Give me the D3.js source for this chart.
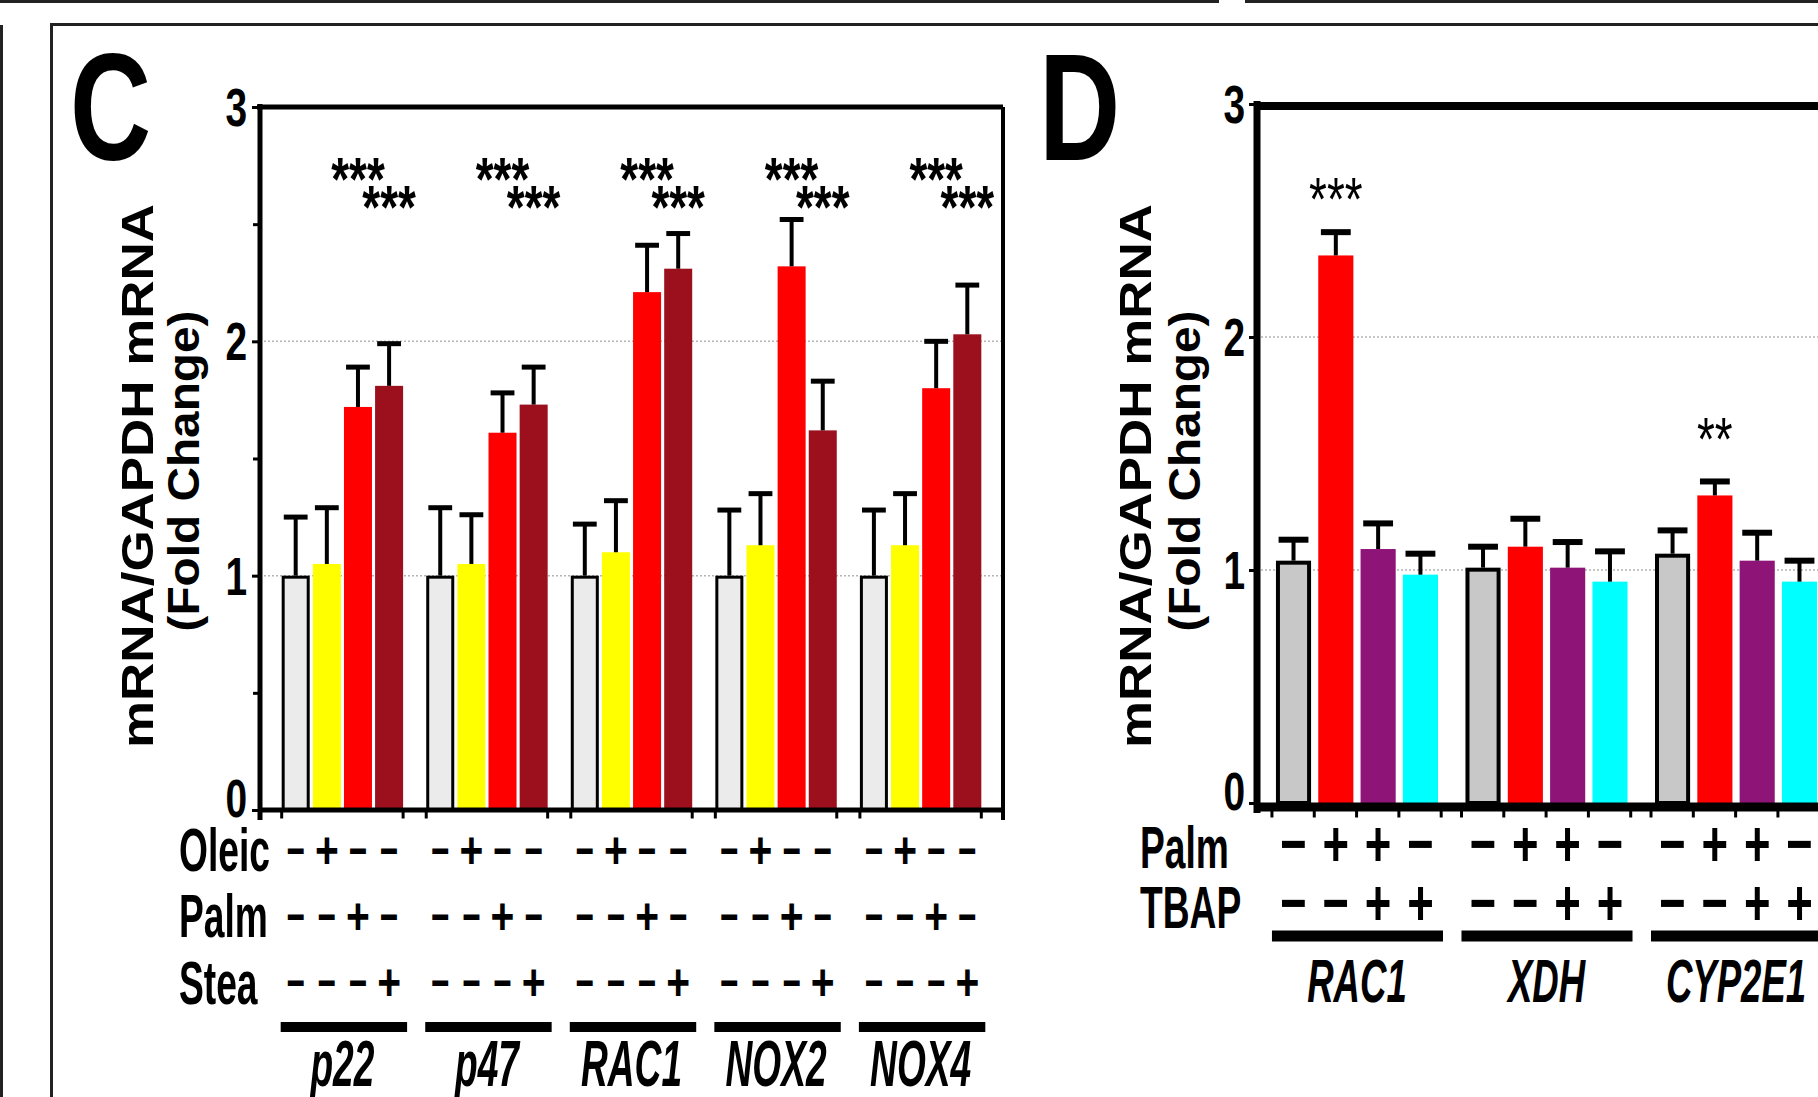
<!DOCTYPE html>
<html>
<head>
<meta charset="utf-8">
<script src="https://cdn.jsdelivr.net/npm/d3@7/dist/d3.min.js"></script>
<style>
    body { margin: 0; background: #fff; }
    svg { display: block; }
    text { font-family: "Liberation Sans", Arial, Helvetica, sans-serif; fill: #000; }
</style>
</head>
<body>
<svg id="fig" width="1818" height="1097"></svg>
<script>
/* global d3 */

// ---------- panel C data ----------
var cGenes = ["p22", "p47", "RAC1", "NOX2", "NOX4"];
var cSeries = ["Control", "Oleic", "Palm", "Stea"];
var cControl = [1.00, 1.00, 1.00, 1.00, 1.00];
var cOleic = [1.05, 1.05, 1.10, 1.13, 1.13];
var cPalm = [1.72, 1.61, 2.21, 2.32, 1.80];
var cStea = [1.81, 1.73, 2.31, 1.62, 2.03];
var cControlSem = [0.25, 0.29, 0.22, 0.28, 0.28];
var cOleicSem = [0.24, 0.21, 0.22, 0.22, 0.22];
var cPalmSem = [0.17, 0.17, 0.20, 0.20, 0.20];
var cSteaSem = [0.18, 0.16, 0.15, 0.21, 0.21];
var cStars = ["", "", "***", "***"]; // same for every gene
var cRows = ["Oleic", "Palm", "Stea"];
var cSigns = [["-", "+", "-", "-"], ["-", "-", "+", "-"], ["-", "-", "-", "+"]];

// ---------- panel D data ----------
var dGenes = ["RAC1", "XDH", "CYP2E1"];
var dSeries = ["Control", "Palm", "Palm+TBAP", "TBAP"];
var dControl = [1.04, 1.01, 1.07];
var dPalm = [2.35, 1.10, 1.32];
var dPalmTbap = [1.09, 1.01, 1.04];
var dTbap = [0.98, 0.95, 0.95];
var dControlSem = [0.09, 0.09, 0.10];
var dPalmSem = [0.10, 0.12, 0.06];
var dPalmTbapSem = [0.11, 0.11, 0.12];
var dTbapSem = [0.09, 0.13, 0.09];
var dStars = [["", "***", "", ""], ["", "", "", ""], ["", "**", "", ""]];
var dRows = ["Palm", "TBAP"];
var dSigns = [["-", "+", "+", "-"], ["-", "-", "+", "+"]];

var yTicks = [0, 1, 2, 3];
var yMinor = [0.5, 1.5, 2.5];
var yLabel1 = "mRNA/GAPDH mRNA";
var yLabel2 = "(Fold Change)";

var svg = d3.select("#fig");

// condensed text: a plain font squeezed sideways
function ctext(parent, x, y, str, size, sx, opt) {
    opt = opt || {};
    return parent.append("text")
        .attr("transform", "translate(" + x + "," + y + ") scale(" + sx + ",1)")
        .attr("font-size", size)
        .attr("font-weight", opt.weight || "bold")
        .attr("font-style", opt.style || "normal")
        .attr("text-anchor", opt.anchor || "start")
        .text(str);
}

// ---------- outer frames ----------
svg.append("path").attr("d", "M0,1.5H1219M1245,1.5H1818")
    .attr("stroke", "#222").attr("stroke-width", 3).attr("fill", "none");
svg.append("path").attr("d", "M1.5,25V1097")
    .attr("stroke", "#222").attr("stroke-width", 3).attr("fill", "none");
svg.append("path").attr("d", "M51.5,1097V24.5H1818")
    .attr("stroke", "#222").attr("stroke-width", 3).attr("fill", "none");

function drawPanel(p) {
    var g = svg.append("g"),
        y = p.y,
        xg = d3.scaleBand().domain(p.genes).range([p.xLeft, p.xRight])
            .paddingInner(p.padInner).paddingOuter(p.padOuter),
        xs = d3.scaleBand().domain(p.series).range([0, xg.bandwidth()])
            .paddingInner(p.barPad),
        bw = xs.bandwidth(),
        flat = [];

    p.genes.forEach(function (gene, gi) {
        p.series.forEach(function (s, si) {
            flat.push({
                gene: gene, gi: gi, si: si,
                v: p.values[si][gi], e: p.sems[si][gi],
                star: p.stars(gi, si),
                cx: xg(gene) + xs(s) + bw / 2
            });
        });
    });

    // panel letter
    ctext(g, p.letterX, 160, p.letter, 152, 0.74);

    // y axis title
    g.append("text")
        .attr("transform", "translate(" + p.label1X + ",476) rotate(-90)")
        .attr("text-anchor", "middle").attr("font-size", 44).attr("font-weight", "bold")
        .attr("textLength", 544).attr("lengthAdjust", "spacingAndGlyphs")
        .text(yLabel1);
    g.append("text")
        .attr("transform", "translate(" + p.label2X + ",471) rotate(-90)")
        .attr("text-anchor", "middle").attr("font-size", 44).attr("font-weight", "bold")
        .attr("textLength", 321).attr("lengthAdjust", "spacingAndGlyphs")
        .text(yLabel2);

    // dotted grid
    g.selectAll(".grid").data([1, 2]).enter().append("line")
        .attr("x1", p.xLeft).attr("x2", p.xRight)
        .attr("y1", y).attr("y2", y)
        .attr("stroke", "#b4b4b4").attr("stroke-width", 1.5)
        .attr("stroke-dasharray", "2,2");

    // bars
    g.selectAll(".bar").data(flat).enter().append("rect")
        .attr("x", function (d) { return d.si === 0 ? d.cx - bw / 2 + p.sw / 2 : d.cx - bw / 2; })
        .attr("width", function (d) { return d.si === 0 ? bw - p.sw : bw; })
        .attr("y", function (d) { return y(d.v) + (d.si === 0 ? p.sw / 2 : 0); })
        .attr("height", function (d) { return y(0) - y(d.v) - (d.si === 0 ? p.sw / 2 : 0); })
        .attr("fill", function (d) { return p.colors[d.si]; })
        .attr("stroke", function (d) { return d.si === 0 ? "#000" : "none"; })
        .attr("stroke-width", p.sw);

    // error bars (upper half only)
    g.selectAll(".err").data(flat).enter().append("line")
        .attr("x1", function (d) { return d.cx; }).attr("x2", function (d) { return d.cx; })
        .attr("y1", function (d) { return y(d.v); })
        .attr("y2", function (d) { return y(d.v + d.e); })
        .attr("stroke", "#000").attr("stroke-width", 4);
    g.selectAll(".cap").data(flat).enter().append("line")
        .attr("x1", function (d) { return d.cx - bw * p.capFrac / 2; })
        .attr("x2", function (d) { return d.cx + bw * p.capFrac / 2; })
        .attr("y1", function (d) { return y(d.v + d.e); })
        .attr("y2", function (d) { return y(d.v + d.e); })
        .attr("stroke", "#000").attr("stroke-width", p.capW);

    // significance stars
    flat.filter(function (d) { return d.star; }).forEach(function (d) {
        ctext(g, d.cx, p.starY(d), d.star, 62, 0.74, { anchor: "middle", weight: p.starWeight });
    });

    // frame: y axis, top, right, x axis
    g.append("line").attr("x1", p.xLeft).attr("x2", p.xLeft)
        .attr("y1", y(3) - 3).attr("y2", y(0) + 10)
        .attr("stroke", "#000").attr("stroke-width", p.axisW);
    g.append("line").attr("x1", p.xLeft - 3).attr("x2", p.frameRight)
        .attr("y1", y(3) + p.topOff).attr("y2", y(3) + p.topOff)
        .attr("stroke", "#000").attr("stroke-width", p.topW);
    if (p.rightFrame) {
        g.append("line").attr("x1", p.xRight).attr("x2", p.xRight)
            .attr("y1", y(3)).attr("y2", y(0) + 10)
            .attr("stroke", "#000").attr("stroke-width", 4);
    }
    g.append("line").attr("x1", p.xLeft).attr("x2", p.frameRight)
        .attr("y1", y(0) + p.xAxisOff).attr("y2", y(0) + p.xAxisOff)
        .attr("stroke", "#000").attr("stroke-width", p.xAxisW);

    // x ticks
    var xt = [];
    p.genes.forEach(function (gene) {
        p.xTickPos(xg(gene), xg.bandwidth(), xs).forEach(function (t) { xt.push(t); });
    });
    g.selectAll(".xt").data(xt).enter().append("line")
        .attr("x1", function (d) { return d; }).attr("x2", function (d) { return d; })
        .attr("y1", y(0) + p.xAxisOff).attr("y2", y(0) + p.xAxisOff + p.xAxisW / 2 + 6)
        .attr("stroke", "#000").attr("stroke-width", 3);

    // y axis ticks and labels
    var ax = g.append("g").attr("transform", "translate(" + p.xLeft + ",0)")
        .call(d3.axisLeft(y).tickValues(yTicks).tickFormat(d3.format("d"))
            .tickSize(8).tickPadding(4));
    ax.select(".domain").remove();
    ax.selectAll("line").attr("stroke-width", 3);
    ax.selectAll("text")
        .attr("font-size", 54).attr("font-weight", "bold")
        .attr("transform", "scale(0.72,1)")
        .attr("x", -p.labelGap / 0.72)
        .attr("dy", function (d) { return d === 0 ? "0.12em" : "0.34em"; });
    ax.attr("font-family", null).attr("font-size", null);
    if (p.minor) {
        var mx = g.append("g").attr("transform", "translate(" + p.xLeft + ",0)")
            .call(d3.axisLeft(y).tickValues(yMinor).tickSize(7).tickFormat(""));
        mx.select(".domain").remove();
        mx.selectAll("line").attr("stroke-width", 3);
    }

    // treatment rows
    p.rows.forEach(function (r, ri) {
        ctext(g, p.rowX, p.rowBase[ri], r, p.rowSize, p.rowSx);
        p.genes.forEach(function (gene) {
            p.series.forEach(function (s, si) {
                var plus = p.signs[ri][si] === "+";
                ctext(g, xg(gene) + xs(s) + bw / 2, p.rowMid[ri] + 0.355 * p.signSize,
                    plus ? "+" : "\u2212", p.signSize, plus ? p.plusSx : p.minusSx,
                    { anchor: "middle" });
            });
        });
    });

    // gene underline and names
    g.selectAll(".gline").data(p.genes).enter().append("line")
        .attr("x1", function (d) { return xg(d) + p.lineExt[0]; })
        .attr("x2", function (d) { return xg(d) + xg.bandwidth() + p.lineExt[1]; })
        .attr("y1", p.lineY).attr("y2", p.lineY)
        .attr("stroke", "#000").attr("stroke-width", p.lineW);
    p.genes.forEach(function (gene) {
        ctext(g, xg(gene) + xg.bandwidth() / 2, p.geneBase, gene, p.geneSize, p.geneSx,
            { anchor: "middle", style: "italic" });
    });
}

drawPanel({
    letter: "C", letterX: 70,
    genes: cGenes, series: cSeries,
    values: [cControl, cOleic, cPalm, cStea],
    sems: [cControlSem, cOleicSem, cPalmSem, cSteaSem],
    colors: ["#ebebeb", "#ffff00", "#ff0000", "#9c0f1c"],
    stars: function (gi, si) { return cStars[si]; },
    starY: function (d) { return d.si === 2 ? 200 : 228; },
    starWeight: "bold",
    y: d3.scaleLinear().domain([0, 3]).range([810, 107]),
    xLeft: 260, xRight: 1003, frameRight: 1003, rightFrame: true,
    padInner: 0.16, padOuter: 0.15, barPad: 0.1,
    sw: 3, capFrac: 0.85, capW: 5,
    axisW: 5, topW: 5, topOff: 0, xAxisW: 5, xAxisOff: 0,
    minor: true, labelGap: 13,
    label1X: 153, label2X: 199,
    xTickPos: function (x0, w) { return [x0, x0 + w]; },
    rows: cRows, signs: cSigns,
    rowX: 179, rowBase: [871, 937, 1004], rowMid: [850, 916, 982],
    rowSize: 62, rowSx: 0.6, signSize: 51, plusSx: 0.8, minusSx: 0.62,
    lineY: 1027, lineW: 10, lineExt: [-1, 4],
    geneBase: 1086, geneSize: 64, geneSx: 0.58
});

drawPanel({
    letter: "D", letterX: 1039,
    genes: dGenes, series: dSeries,
    values: [dControl, dPalm, dPalmTbap, dTbap],
    sems: [dControlSem, dPalmSem, dPalmTbapSem, dTbapSem],
    colors: ["#c8c8c8", "#ff0000", "#8f1478", "#00ffff"],
    stars: function (gi, si) { return dStars[gi][si]; },
    starY: function (d) { return this.y(d.v) - 35; },
    starWeight: "normal",
    y: d3.scaleLinear().domain([0, 3]).range([803, 104]),
    xLeft: 1257, xRight: 1836, frameRight: 1818, rightFrame: false,
    padInner: 0.145, padOuter: 0.1, barPad: 0.17,
    sw: 4, capFrac: 0.85, capW: 6,
    axisW: 7, topW: 8, topOff: 2, xAxisW: 9, xAxisOff: 4,
    minor: false, labelGap: 12,
    label1X: 1151, label2X: 1200,
    xTickPos: function (x0, w, xs) {
        var st = xs.step();
        return [0, 1, 2, 3, 4].map(function (k) { return x0 - 4 + k * st; });
    },
    rows: dRows, signs: dSigns,
    rowX: 1140, rowBase: [868, 928], rowMid: [843, 902],
    rowSize: 60, rowSx: 0.62, signSize: 65, plusSx: 0.7, minusSx: 0.7,
    lineY: 936, lineW: 11, lineExt: [-4, 5],
    geneBase: 1002, geneSize: 62, geneSx: 0.59
});
</script>
</body>
</html>
